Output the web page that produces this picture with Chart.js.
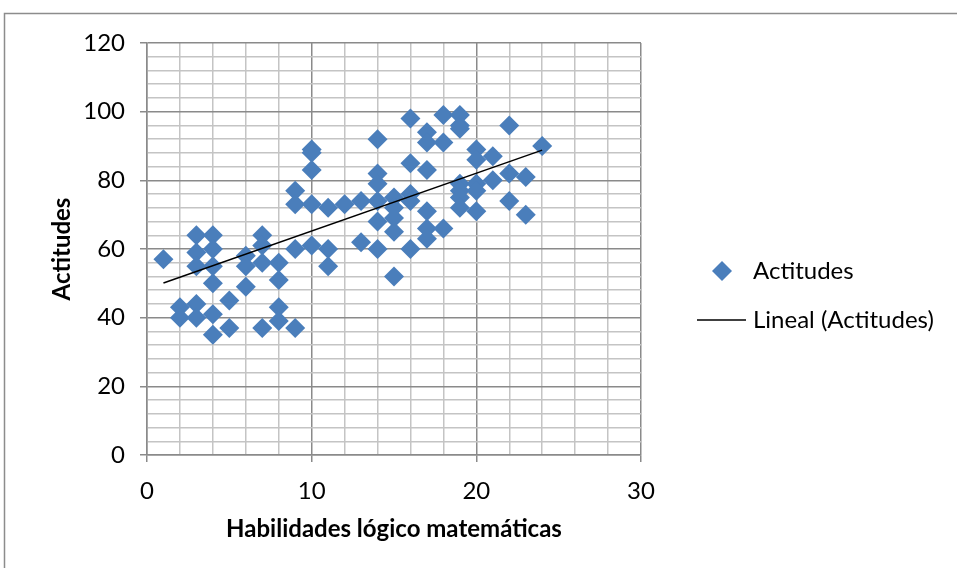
<!DOCTYPE html>
<html>
<head>
<meta charset="utf-8">
<script src="https://cdn.jsdelivr.net/npm/chart.js@4"></script>
<style>
  html, body { margin: 0; padding: 0; background: #fff; }
  #wrap { width: 957px; height: 568px; }
</style>
</head>
<body>
<div id="wrap"><canvas id="c" width="957" height="568"></canvas></div>
<script>
// Habilidades lógico matemáticas (x) vs Actitudes (y), one entry per student
const habilidades = [
  1,
  2, 2,
  3, 3, 3, 3, 3,
  4, 4, 4, 4, 4, 4,
  5, 5,
  6, 6, 6,
  7, 7, 7, 7,
  8, 8, 8, 8,
  9, 9, 9, 9,
  10, 10, 10, 10, 10,
  11, 11, 11,
  12,
  13, 13,
  14, 14, 14, 14, 14, 14,
  15, 15, 15, 15, 15,
  16, 16, 16, 16, 16,
  17, 17, 17, 17, 17, 17,
  18, 18, 18,
  19, 19, 19, 19, 19, 19, 19,
  20, 20, 20, 20, 20,
  21, 21,
  22, 22, 22,
  23, 23,
  24
];
const actitudes = [
  57,
  43, 40,
  64, 59, 55, 44, 40,
  64, 60, 55, 50, 41, 35,
  45, 37,
  58, 55, 49,
  64, 61, 56, 37,
  56, 51, 43, 39,
  77, 73, 60, 37,
  89, 88, 83, 73, 61,
  72, 60, 55,
  73,
  74, 62,
  92, 82, 79, 74, 68, 60,
  75, 72, 69, 65, 52,
  98, 85, 76, 74, 60,
  94, 91, 83, 71, 66, 63,
  99, 91, 66,
  99, 96, 95, 79, 77, 75, 72,
  89, 86, 79, 77, 71,
  87, 80,
  96, 82, 74,
  81, 70,
  90
];

// Linear trend line end points
const tendenciaX = [1, 24];
const tendenciaY = [50.1, 88.8];

// Labelled ticks on each axis
const xTickLabels = [0, 10, 20, 30];
const yTickLabels = [0, 20, 40, 60, 80, 100, 120];

const serieNombre = 'Actitudes';
const tendenciaNombre = 'Lineal (Actitudes)';

const AZUL = '#4a7ebb';
const GRID_MAYOR = '#8a8a8a';
const GRID_MENOR = '#c4c4c4';
const FONT = 'Lato, "Open Sans", "DejaVu Sans", sans-serif';

const puntos = habilidades.map((x, i) => ({ x: x, y: actitudes[i] }));
const tendencia = tendenciaX.map((x, i) => ({ x: x, y: tendenciaY[i] }));

// Outer frame and the legend at the right
const marcoYLeyenda = {
  id: 'marcoYLeyenda',
  beforeDraw(chart) {
    const ctx = chart.ctx;
    ctx.save();
    ctx.fillStyle = '#fff';
    ctx.fillRect(0, 0, chart.width, chart.height);
    ctx.strokeStyle = '#8c8c8c';
    ctx.lineWidth = 1.5;
    ctx.beginPath();
    ctx.moveTo(4.5, chart.height);
    ctx.lineTo(4.5, 13.5);
    ctx.lineTo(chart.width, 13.5);
    ctx.stroke();
    ctx.restore();
  },
  afterDraw(chart) {
    const ctx = chart.ctx;
    ctx.save();
    // scatter entry
    const r = 10, cx = 722, cy = 271;
    ctx.fillStyle = AZUL;
    ctx.beginPath();
    ctx.moveTo(cx - r, cy);
    ctx.lineTo(cx, cy - r);
    ctx.lineTo(cx + r, cy);
    ctx.lineTo(cx, cy + r);
    ctx.closePath();
    ctx.fill();
    ctx.fillStyle = '#000';
    ctx.font = '24px ' + FONT;
    ctx.textBaseline = 'middle';
    ctx.textAlign = 'left';
    ctx.fillText(serieNombre, 753, cy);
    // trend entry
    const ly = 320;
    ctx.strokeStyle = '#000';
    ctx.lineWidth = 1.5;
    ctx.beginPath();
    ctx.moveTo(697, ly);
    ctx.lineTo(746, ly);
    ctx.stroke();
    ctx.fillText(tendenciaNombre, 753, ly);
    ctx.restore();
  }
};

const esMayor = (lista, v) => lista.indexOf(Math.round(v * 1000) / 1000) !== -1;

new Chart(document.getElementById('c'), {
  type: 'scatter',
  data: {
    datasets: [
      {
        label: tendenciaNombre,
        type: 'line',
        data: tendencia,
        borderColor: '#000',
        borderWidth: 1.5,
        pointRadius: 0,
        fill: false,
        order: 0
      },
      {
        label: serieNombre,
        data: puntos,
        pointStyle: 'rectRot',
        pointRadius: 10,
        pointHoverRadius: 10,
        backgroundColor: AZUL,
        borderColor: AZUL,
        borderWidth: 0,
        order: 1
      }
    ]
  },
  options: {
    responsive: false,
    animation: false,
    events: [],
    layout: { padding: { left: 0, top: 43, right: 316, bottom: 0 } },
    plugins: {
      legend: { display: false },
      tooltip: { enabled: false }
    },
    font: { family: FONT },
    scales: {
      x: {
        type: 'linear',
        min: 0,
        max: 30,
        afterFit(scale) { scale.height = 113; },
        ticks: {
          stepSize: 2,
          autoSkip: false,
          maxRotation: 0,
          padding: 15,
          color: '#000',
          font: { family: FONT, size: 24 },
          callback: (v) => esMayor(xTickLabels, v) ? String(v) : ''
        },
        grid: {
          color: (c) => c.tick && esMayor(xTickLabels, c.tick.value) ? GRID_MAYOR : GRID_MENOR,
          tickColor: (c) => c.tick && esMayor(xTickLabels, c.tick.value) ? GRID_MAYOR : 'rgba(0,0,0,0)',
          tickLength: 7,
          lineWidth: 1.5
        },
        border: { color: GRID_MAYOR, width: 1.5 },
        title: {
          display: true,
          text: 'Habilidades lógico matemáticas',
          color: '#000',
          font: { family: FONT, size: 24, weight: 'bold' },
          padding: { top: 0, bottom: 24 }
        }
      },
      y: {
        type: 'linear',
        min: 0,
        max: 120,
        afterFit(scale) { scale.width = 147; },
        ticks: {
          stepSize: 4,
          autoSkip: false,
          padding: 15,
          color: '#000',
          font: { family: FONT, size: 24 },
          callback: (v) => esMayor(yTickLabels, v) ? String(v) : ''
        },
        grid: {
          color: (c) => c.tick && esMayor(yTickLabels, c.tick.value) ? GRID_MAYOR : GRID_MENOR,
          tickColor: (c) => c.tick && esMayor(yTickLabels, c.tick.value) ? GRID_MAYOR : 'rgba(0,0,0,0)',
          tickLength: 7,
          lineWidth: 1.5
        },
        border: { color: GRID_MAYOR, width: 1.5 },
        title: {
          display: true,
          text: 'Actitudes',
          color: '#000',
          font: { family: FONT, size: 24, weight: 'bold' },
          padding: { top: 48, bottom: 0 }
        }
      }
    }
  },
  plugins: [marcoYLeyenda]
});
</script>
</body>
</html>
